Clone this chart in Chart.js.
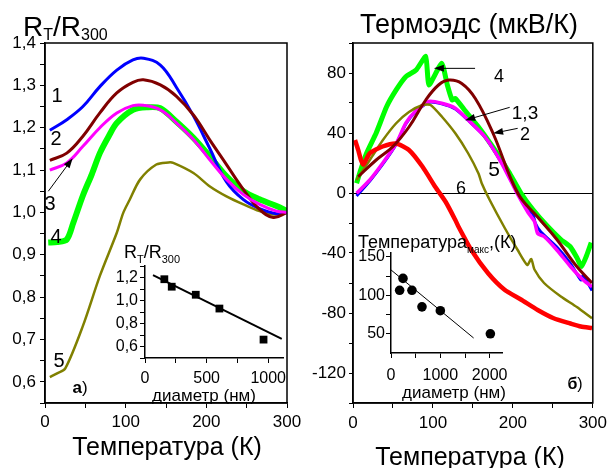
<!DOCTYPE html>
<html lang="ru">
<head>
<meta charset="UTF-8">
<title>R_T/R_300 и термоэдс</title>
<script src="https://cdn.jsdelivr.net/npm/chart.js@4.4.0/dist/chart.umd.min.js"></script>
<style>
    body { margin: 0; background: #fff; font-family: "Liberation Sans", Arial, sans-serif; }
    #wrap { position: relative; width: 612px; height: 468px; overflow: hidden; }
    #wrap canvas { position: absolute; left: 0; top: 0; }
    .t { position: absolute; transform: translate(-50%, -50%); line-height: 1; white-space: nowrap; color: #000; }
    .b { position: absolute; line-height: 1; white-space: nowrap; color: #000; }
    .s { display: inline-block; position: relative; line-height: 1; }
</style>
</head>
<body>
<div id="wrap">
    <canvas id="cA" width="612" height="468"></canvas>
    <canvas id="cB" width="612" height="468"></canvas>
    <canvas id="cAin" width="612" height="468"></canvas>
    <canvas id="cBin" width="612" height="468"></canvas>

    <!-- панель а -->
    <div class="b" style="left:23px;top:13px;font-size:28px">R<span class="s" style="font-size:16px;top:4px">T</span>/R<span class="s" style="font-size:16px;top:4px">300</span></div>
    <div class="t" style="left:167px;top:446px;font-size:25px">Температура (К)</div>
    <div class="t" style="left:57px;top:95px;font-size:20px">1</div>
    <div class="t" style="left:56px;top:138px;font-size:20px">2</div>
    <div class="t" style="left:50px;top:203px;font-size:20px">3</div>
    <div class="t" style="left:56px;top:236px;font-size:20px">4</div>
    <div class="t" style="left:59px;top:360px;font-size:20px">5</div>
    <div class="t" style="left:80px;top:387px;font-size:17px"><b>а</b>)</div>
    <div class="b" style="left:124px;top:243px;font-size:18px">R<span class="s" style="font-size:11px;top:5px">T</span>/R<span class="s" style="font-size:11px;top:5px">300</span></div>
    <div class="t" style="left:204px;top:395px;font-size:17px">диаметр (нм)</div>

    <!-- панель б -->
    <div class="t" style="left:469px;top:24px;font-size:27px">Термоэдс (мкВ/К)</div>
    <div class="t" style="left:470px;top:456px;font-size:25px">Температура (К)</div>
    <div class="t" style="left:499px;top:76px;font-size:18px">4</div>
    <div class="t" style="left:525px;top:112px;font-size:19px">1,3</div>
    <div class="t" style="left:525px;top:134px;font-size:18px">2</div>
    <div class="t" style="left:494px;top:168px;font-size:21px">5</div>
    <div class="t" style="left:461px;top:188px;font-size:18px">6</div>
    <div class="t" style="left:575px;top:384px;font-size:16px"><b>б</b>)</div>
    <div class="b" style="left:358px;top:233px;font-size:18px">Температура<span class="s" style="font-size:10px;top:5px">макс</span>,(К)</div>
    <div class="t" style="left:454px;top:392px;font-size:17px">диаметр (нм)</div>
</div>

<script>
    var FONT = '"Liberation Sans", Arial, sans-serif';

    // ---- панель а: R_T/R_300 от температуры ----
    var a1T = [6, 27, 47, 68, 89, 109, 122, 143, 163, 184, 204, 225, 246, 266, 287, 300];
    var a1R = [1.194, 1.219, 1.25, 1.297, 1.336, 1.36, 1.364, 1.348, 1.295, 1.228, 1.152, 1.072, 1.03, 1.009, 0.997, 1.0];
    var a2T = [6, 27, 47, 68, 89, 109, 122, 143, 163, 184, 204, 225, 246, 266, 283, 300];
    var a2R = [1.123, 1.14, 1.18, 1.235, 1.282, 1.307, 1.313, 1.301, 1.274, 1.23, 1.172, 1.113, 1.054, 1.007, 0.988, 1.0];
    var a3T = [6, 27, 47, 68, 89, 109, 122, 143, 163, 184, 204, 225, 246, 266, 287, 300];
    var a3R = [1.1, 1.117, 1.156, 1.2, 1.235, 1.252, 1.253, 1.242, 1.211, 1.172, 1.125, 1.078, 1.042, 1.019, 1.003, 1.0];
    var a4T = [4, 15, 27, 35, 47, 58, 68, 79, 89, 109, 126, 143, 163, 184, 204, 225, 246, 266, 287, 300];
    var a4R = [0.929, 0.93, 0.936, 0.975, 1.04, 1.09, 1.14, 1.18, 1.211, 1.242, 1.248, 1.246, 1.214, 1.176, 1.133, 1.085, 1.05, 1.031, 1.015, 1.003];
    var a5T = [6, 15, 25, 47, 68, 89, 97, 105, 118, 138, 153, 159, 184, 204, 225, 246, 266, 283, 300];
    var a5R = [0.611, 0.62, 0.631, 0.732, 0.85, 0.952, 0.999, 1.03, 1.078, 1.113, 1.118, 1.117, 1.093, 1.062, 1.038, 1.019, 1.003, 0.995, 1.0];
    var arrowsA = [[4.1, 1.05, 34.3, 1.128]];

    // вставка а: R_T/R_300 от диаметра
    var inAD = [157, 217, 412, 604, 962];
    var inAR = [1.185, 1.12, 1.05, 0.93, 0.66];
    var inAFitD = [65, 1110];
    var inAFitR = [1.22, 0.666];

    // ---- панель б: термоэдс ----
    var b1T = [4.5, 21, 37, 54, 66, 79, 95, 111, 128, 144, 165, 186, 206, 219, 225, 228, 235, 255, 272, 285, 288, 299];
    var b1S = [-2, 8, 19, 32.5, 46, 54.5, 60.5, 59.5, 56, 48.5, 37.5, 20, 0, -12, -14, -20, -26, -36, -47, -58, -55, -65];
    var b2T = [6.5, 29, 50, 70, 91, 107, 120, 136, 153, 175, 206, 231, 255, 280, 299];
    var b2S = [10.9, 22, 31, 44, 62, 72, 75.3, 73, 63, 40, 0, -16, -31, -49, -60];
    var b3T = [4.5, 21, 37, 54, 66, 79, 95, 111, 128, 144, 165, 186, 206, 219, 227, 231, 239, 255, 272, 288, 299];
    var b3S = [-0.2, 8.7, 19.8, 33, 46.5, 55, 61, 59.8, 56.5, 48.7, 37.5, 19.8, -1, -13, -19, -27, -29, -38, -49, -58, -62.5];
    var b4T = [4.5, 10, 17, 29, 42, 54, 66, 79, 91, 95, 111, 118, 124, 128, 140, 157, 177, 195, 210, 225, 243, 260, 272, 280, 286, 292, 298];
    var b4S = [6.5, 16, 26.5, 40, 57.5, 68.7, 77.5, 82, 91, 72, 86.5, 72, 62, 63, 55, 44, 29, 14, 0, -11, -22, -31, -36, -43, -49, -42, -33];
    var b5T = [4.5, 21, 37, 54, 70, 87, 97, 111, 128, 144, 157, 161, 171, 190, 206, 218, 223, 227, 239, 260, 280, 299];
    var b5S = [8.7, 22, 35, 46.5, 54, 58.7, 58.7, 51, 39.8, 26.5, 13, 6.5, -4.7, -23.5, -38, -48, -44, -51, -60, -69, -76, -83.5];
    var b6T = [2.5, 6.5, 10, 13, 21, 37, 54, 70, 87, 103, 116, 128, 132, 148, 169, 190, 210, 231, 251, 272, 285, 299];
    var b6S = [35.3, 28.7, 22, 19, 26.5, 31, 33, 28.7, 17.5, 4, -6, -18, -22.5, -38, -53.5, -64.7, -71, -78, -83.5, -87, -89, -90];
    var arrowsB = [[152.7, 83.1, 101.2, 83.1], [196, 57.1, 140.4, 48.5], [206, 43.1, 175.3, 39.8]];

    // вставка б: Т_макс от диаметра
    var inBD = [175, 243, 425, 628, 1000, 2014];
    var inBT = [106.5, 122, 106.5, 85, 80, 50];
    var inBFitD = [0, 1675];
    var inBFitT = [133, 44.5];

    // деления осей
    var tempTicks = [0, 50, 100, 150, 200, 250, 300];
    var tempLabels = [0, 100, 200, 300];
    var aYTicks = [0.55, 0.6, 0.65, 0.7, 0.75, 0.8, 0.85, 0.9, 0.95, 1.0, 1.05, 1.1, 1.15, 1.2, 1.25, 1.3, 1.35, 1.4];
    var aYLabels = [0.6, 0.7, 0.8, 0.9, 1.0, 1.1, 1.2, 1.3, 1.4];
    var bYTicks = [-140, -120, -100, -80, -60, -40, -20, 0, 20, 40, 60, 80, 100];
    var bYLabels = [-120, -80, -40, 0, 40, 80];
    var inAXTicks = [0, 250, 500, 750, 1000];
    var inAXLabels = [0, 500, 1000];
    var inAYTicks = [0.5, 0.6, 0.7, 0.8, 0.9, 1.0, 1.1, 1.2, 1.3];
    var inAYLabels = [0.6, 0.8, 1.0, 1.2];
    var inBXTicks = [0, 500, 1000, 1500, 2000];
    var inBXLabels = [0, 1000, 2000];
    var inBYTicks = [50, 75, 100, 125, 150];
    var inBYLabels = [50, 100, 150];

    function pts(xs, ys) {
        return xs.map(function (x, i) { return {x: x, y: ys[i]}; });
    }
    function comma(v) { return v.toFixed(1).replace('.', ','); }
    function plain(v) { return String(v); }

    function makeAxis(o) {
        return {
            type: 'linear', min: o.min, max: o.max,
            afterBuildTicks: function (s) { s.ticks = o.ticks.map(function (v) { return {value: v}; }); },
            afterFit: function (s) { if (o.w) s.width = o.w; if (o.h) s.height = o.h; },
            ticks: {
                autoSkip: false, maxRotation: 0, minRotation: 0, padding: o.pad, color: '#000',
                font: {family: FONT, size: o.fs},
                callback: function (v) { return o.labels.indexOf(v) >= 0 ? o.fmt(v) : ''; }
            },
            grid: {
                drawOnChartArea: !!o.zero,
                color: function (c) { return (o.zero && c.tick && c.tick.value === 0) ? '#000' : 'rgba(0,0,0,0)'; },
                lineWidth: 1, tickColor: '#000', tickLength: o.tl, tickWidth: 1
            },
            border: {display: true, color: '#000', width: 1.5}
        };
    }

    // smooth: true -> натяжение кривой, иначе monotone
    function line(data, color, width, tension) {
        var d = {data: data, borderColor: color, backgroundColor: color, borderWidth: width,
            pointRadius: 0, fill: false};
        if (tension) d.tension = tension; else d.cubicInterpolationMode = 'monotone';
        return d;
    }

    function drawArrows(chart, list) {
        var ctx = chart.ctx, xs = chart.scales.x, ys = chart.scales.y;
        ctx.save();
        ctx.strokeStyle = '#000'; ctx.fillStyle = '#000'; ctx.lineWidth = 1;
        list.forEach(function (a) {
            var x0 = xs.getPixelForValue(a[0]), y0 = ys.getPixelForValue(a[1]);
            var x1 = xs.getPixelForValue(a[2]), y1 = ys.getPixelForValue(a[3]);
            var ang = Math.atan2(y1 - y0, x1 - x0), c = Math.cos(ang), s = Math.sin(ang);
            ctx.beginPath(); ctx.moveTo(x0, y0); ctx.lineTo(x1 - 8 * c, y1 - 8 * s); ctx.stroke();
            ctx.beginPath(); ctx.moveTo(x1, y1);
            ctx.lineTo(x1 - 10 * c + 3.5 * s, y1 - 10 * s - 3.5 * c);
            ctx.lineTo(x1 - 10 * c - 3.5 * s, y1 - 10 * s + 3.5 * c);
            ctx.closePath(); ctx.fill();
        });
        ctx.restore();
    }

    function extras(arrows, frame) {
        return {
            id: 'extras',
            afterDatasetsDraw: function (chart) {
                if (frame) {
                    var a = chart.chartArea, ctx = chart.ctx;
                    ctx.save(); ctx.strokeStyle = '#000'; ctx.lineWidth = 1.5;
                    ctx.strokeRect(a.left, a.top, a.right - a.left, a.bottom - a.top);
                    ctx.restore();
                }
                if (arrows) drawArrows(chart, arrows);
            }
        };
    }

    function baseOptions(pad, xAxis, yAxis) {
        return {
            responsive: false, animation: false, devicePixelRatio: 1,
            layout: {padding: pad},
            plugins: {legend: {display: false}, tooltip: {enabled: false}},
            scales: {x: xAxis, y: yAxis}
        };
    }

    // панель а
    new Chart(document.getElementById('cA'), {
        type: 'line',
        data: {datasets: [
            line(pts(a3T, a3R), '#ff00ff', 3, 0.4),
            line(pts(a2T, a2R), '#800000', 3, 0.4),
            line(pts(a1T, a1R), '#0000ff', 3, 0.4),
            line(pts(a4T, a4R), '#00ff00', 6, 0.3),
            line(pts(a5T, a5R), '#808000', 2.5, 0.3)
        ]},
        options: baseOptions({left: 0, top: 43, right: 325, bottom: 0},
            makeAxis({min: 0, max: 300, ticks: tempTicks, labels: tempLabels, fmt: plain, fs: 17, pad: 4, tl: 5, h: 65}),
            makeAxis({min: 0.55, max: 1.4, ticks: aYTicks, labels: aYLabels, fmt: comma, fs: 17, pad: 4, tl: 5, w: 45})),
        plugins: [extras(arrowsA, true)]
    });

    // панель б
    new Chart(document.getElementById('cB'), {
        type: 'line',
        data: {datasets: [
            line(pts(b2T, b2S), '#800000', 3, 0.4),
            line(pts(b6T, b6S), '#ff0000', 4.5, 0.2),
            line(pts(b5T, b5S), '#808000', 2.5, 0.2),
            line(pts(b3T, b3S), '#ff00ff', 3.5, 0.2),
            line(pts(b1T, b1S), '#0000ff', 3, 0.2),
            line(pts(b4T, b4S), '#00ff00', 5, 0.15)
        ]},
        options: baseOptions({left: 303, top: 43, right: 16, bottom: 0},
            makeAxis({min: 0, max: 300, ticks: tempTicks, labels: tempLabels, fmt: plain, fs: 17, pad: 5, tl: 5, h: 65}),
            makeAxis({min: -140, max: 100, ticks: bYTicks, labels: bYLabels, fmt: plain, fs: 17, pad: 3, tl: 4, w: 50, zero: true})),
        plugins: [extras(arrowsB, true)]
    });

    // вставка а
    new Chart(document.getElementById('cAin'), {
        type: 'line',
        data: {datasets: [
            {data: pts(inAD, inAR), showLine: false, pointStyle: 'rect', pointRadius: 5.5,
                backgroundColor: '#000', borderColor: '#000', borderWidth: 0},
            {data: pts(inAFitD, inAFitR), borderColor: '#000', borderWidth: 2, pointRadius: 0, fill: false}
        ]},
        options: baseOptions({left: 105, top: 266, right: 329, bottom: 80},
            makeAxis({min: 0, max: 1120, ticks: inAXTicks, labels: inAXLabels, fmt: plain, fs: 16, pad: 6, tl: 5, h: 30}),
            makeAxis({min: 0.5, max: 1.3, ticks: inAYTicks, labels: inAYLabels, fmt: comma, fs: 16, pad: 2, tl: 5, w: 40})),
        plugins: [extras(null, false)]
    });

    // вставка б
    new Chart(document.getElementById('cBin'), {
        type: 'line',
        data: {datasets: [
            {data: pts(inBD, inBT), showLine: false, pointStyle: 'circle', pointRadius: 4.8,
                backgroundColor: '#000', borderColor: '#000', borderWidth: 0},
            {data: pts(inBFitD, inBFitT), borderColor: '#000', borderWidth: 1, pointRadius: 0, fill: false}
        ]},
        options: baseOptions({left: 351, top: 253, right: 110, bottom: 85},
            makeAxis({min: 0, max: 2250, ticks: inBXTicks, labels: inBXLabels, fmt: plain, fs: 16, pad: 8, tl: 5, h: 30}),
            makeAxis({min: 25, max: 155, ticks: inBYTicks, labels: inBYLabels, fmt: plain, fs: 16, pad: 1, tl: 5, w: 40})),
        plugins: [extras(null, false)]
    });
</script>
</body>
</html>
